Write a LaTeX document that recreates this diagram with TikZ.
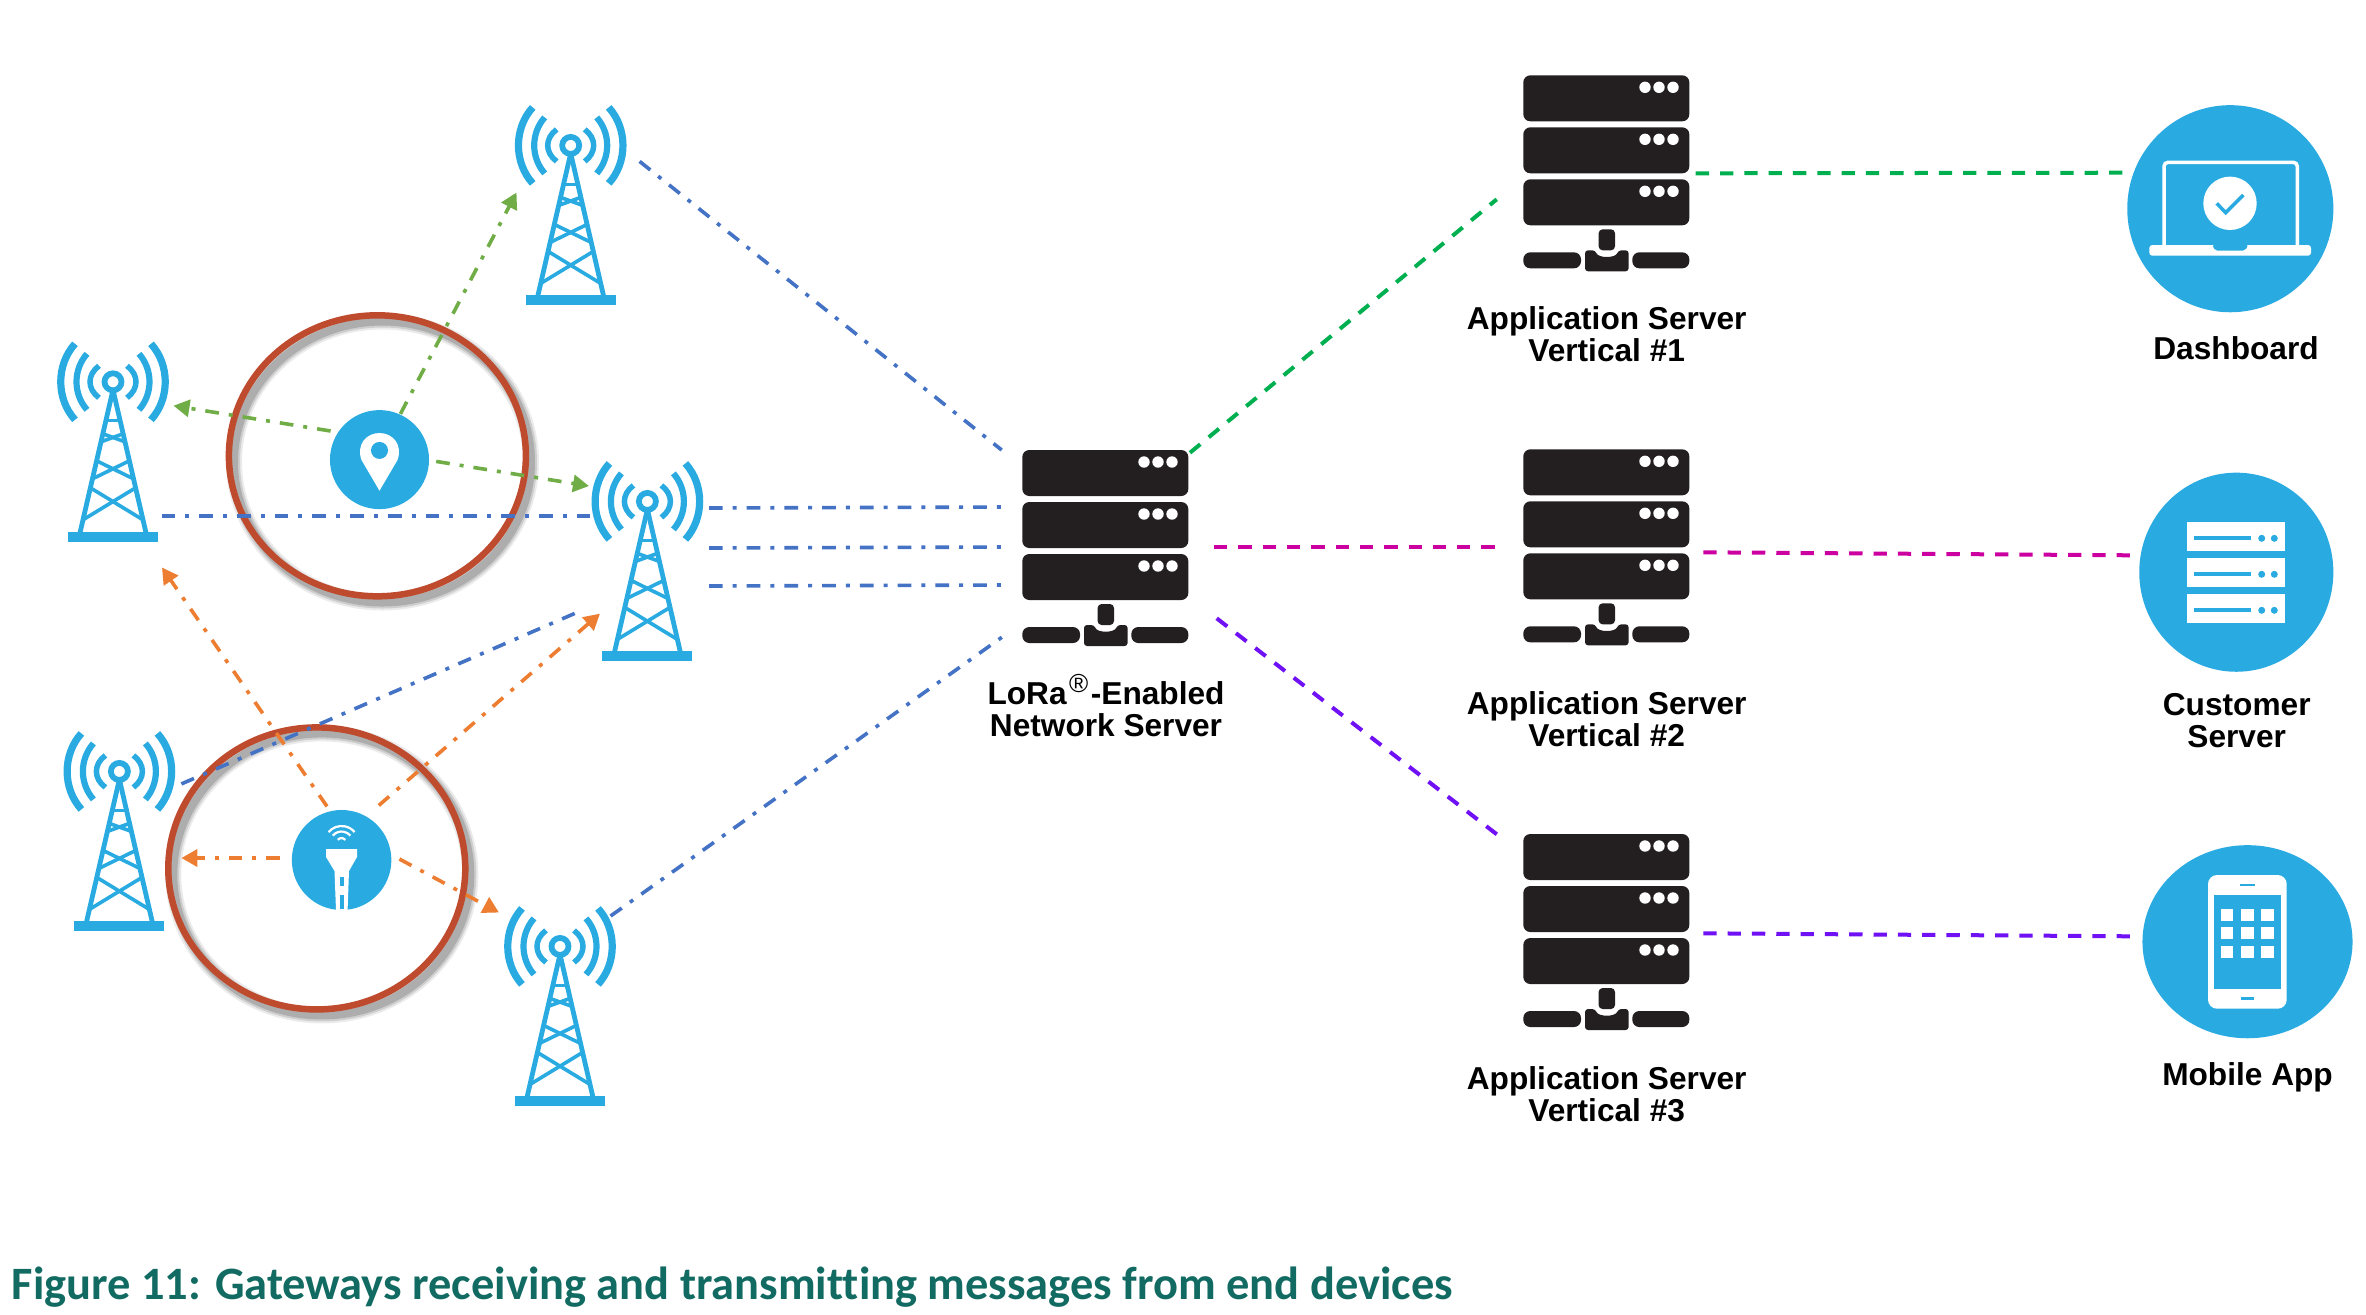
\documentclass[tikz,border=0pt]{standalone}
\usepackage{fontspec}
\setmainfont{Liberation Sans}
\newfontfamily\capfont[Ligatures=NoCommon]{Carlito}
\usetikzlibrary{arrows.meta,shapes.geometric}
\definecolor{sky}{HTML}{29ABE2}
\definecolor{ink}{HTML}{231F20}
\definecolor{ring}{HTML}{BE4B2E}
\definecolor{radio}{HTML}{4472C4}
\definecolor{leaf}{HTML}{70AD47}
\definecolor{amber}{HTML}{ED7D31}
\definecolor{mint}{HTML}{00B050}
\definecolor{rosy}{HTML}{CC00A0}
\definecolor{violet}{HTML}{7010F5}
\definecolor{teal}{HTML}{126B62}
\tikzset{
  dashdot/.style={line width=0.036cm,dash pattern=on 0.137cm off 0.1cm on 0.04cm off 0.1cm},
  dashlink/.style={line width=0.04cm,dash pattern=on 0.133cm off 0.11cm},
  tipped/.style={dashdot,-{Triangle[length=0.16cm,width=0.17cm]}},
  blob/.style={ellipse,fill=sky,inner sep=0pt},
  lbl/.style={font=\fontsize{9}{9.1}\selectfont\bfseries,align=center,anchor=base,inner sep=0pt},
  tower/.pic={
    \draw[sky,line width=0.058cm] (0,0) circle (8.5);
    \foreach \s in {-1,1} {
      \draw[sky,line width=0.072cm] ({\s*38},-38) .. controls ({\s*57},-17) and ({\s*57},17) .. ({\s*38},38);
      \draw[sky,line width=0.062cm] ({\s*26},-28) .. controls ({\s*40},-12) and ({\s*40},12) .. ({\s*26},28);
      \draw[sky,line width=0.055cm] ({\s*14},-16) .. controls ({\s*26},-7) and ({\s*26},7) .. ({\s*14},16);
      \draw[sky,line width=0.048cm] (0,8) -- ({\s*33},151);
      \draw[sky,line width=0.036cm] ({\s*22.6},106) -- ({-\s*30},138);
      \draw[sky,line width=0.036cm] ({\s*16.4},79) -- ({-\s*20.5},97);
      \draw[sky,line width=0.036cm] ({\s*10},52) -- ({-\s*12},60);
    }
    \draw[sky,line width=0.03cm] (-7,39) -- (7,39);
    \fill[sky] (-45,150) rectangle (45,160);
  },
  rack/.pic={
    \foreach \y in {0,52,104} {
      \fill[ink,rounded corners=0.07cm] (0,\y) rectangle (166,{\y+46});
      \foreach \x in {121.7,135.7,149.7}
        \fill[white] (\x,{\y+12}) circle (5.7);
    }
    \fill[ink,rounded corners=0.04cm] (75.3,154) -- (91.7,154) -- (91.7,175) -- (75.3,175) -- cycle;
    \fill[ink,rounded corners=0.07cm] (0,177) rectangle (57.7,193);
    \fill[ink,rounded corners=0.07cm] (109,177) rectangle (166,193);
    \fill[ink,rounded corners=0.03cm] (61.7,175) -- (72,175) .. controls (75,183) and (92,183) .. (95,175) -- (105.3,175) -- (105.3,196) -- (61.7,196) -- cycle;
  }
}
\begin{document}
\begin{tikzpicture}[x=0.01cm,y=-0.01cm]
\useasboundingbox (0,0) rectangle (2366,1314);
% gateways
\pic at (570.7,145.4) {tower};
\pic at (113,381.8) {tower};
\pic at (647.4,501.4) {tower};
\pic at (119.4,771.4) {tower};
\pic at (560,946.4) {tower};
% rings round the end devices
\foreach \w/\o in {0.16/0.08,0.12/0.12,0.08/0.16} {
  \draw[black,opacity=\o,line width=\w cm] (382.5,462) ellipse (148.5 and 140.5);
  \draw[black,opacity=\o,line width=\w cm] (321.8,874.4) ellipse (148.5 and 141);
}
\draw[ring,line width=0.065cm] (377.4,455.8) ellipse (148.5 and 140.5);
\draw[ring,line width=0.065cm] (316.8,868.4) ellipse (148.5 and 141);
% end devices
\node[blob,minimum width=0.99cm,minimum height=0.99cm] (pin) at (379.5,459.6) {};
\fill[white] (379.5,490.7) -- (361.5,460) .. controls (356,445) and (366,433) .. (379.5,433) .. controls (393,433) and (403,445) .. (397.5,460) -- cycle;
\fill[sky] (379.5,450.4) circle (8.5);
\node[blob,minimum width=0.995cm,minimum height=1cm] (probe) at (341.6,860) {};
\fill[white] (326,849) -- (357,849) -- (357,857) -- (349,871) -- (347.6,910) -- (336,910) -- (334.5,871) -- (326,857) -- cycle;
\draw[sky,line width=0.04cm] (341.6,877) -- (341.6,886);
\draw[sky,line width=0.04cm] (341.6,895) -- (341.6,909);
\foreach \r in {17,11.5,5}
  \draw[white,line width=0.022cm] (341.6,843) ++(-140:\r) arc[start angle=-140,end angle=-40,radius=\r];
% servers
\pic at (1022.3,450) {rack};
\pic at (1523.3,75.3) {rack};
\pic at (1523.3,449.3) {rack};
\pic at (1523.3,834) {rack};
\node[lbl] (nslbl) at (1106,736) {LoRa\kern0.08em\raisebox{3.3pt}{\fontsize{7.4}{8}\selectfont\mdseries ®}\kern0.08em-Enabled\\Network Server};
\node[lbl] (as1lbl) at (1606.7,361.5) {Application Server\\Vertical \#1};
\node[lbl] (as2lbl) at (1606.7,746.5) {Application Server\\Vertical \#2};
\node[lbl] (as3lbl) at (1606.7,1121.5) {Application Server\\Vertical \#3};
% customer end
\node[blob,minimum width=2.06cm,minimum height=2.07cm] (dashboard) at (2230.3,208.7) {};
\draw[white,line width=0.035cm,rounded corners=0.04cm] (2164,245) -- (2164,162.3) -- (2297.3,162.3) -- (2297.3,245);
\fill[white,rounded corners=0.03cm] (2149.3,245) -- (2311,245) -- (2311,255.7) -- (2149.3,255.7) -- cycle;
\fill[sky,rounded corners=0.02cm] (2212.3,245) -- (2248.3,245) -- (2245,250.5) -- (2215,250.5) -- cycle;
\fill[white] (2230,203.3) circle (26.7);
\draw[sky,line width=0.035cm] (2216.7,203.3) -- (2225.7,212.7) -- (2243.3,195);
\node[lbl] (dashlbl) at (2236,359) {Dashboard};
\node[blob,minimum width=1.94cm,minimum height=1.99cm] (customer) at (2236.3,572.2) {};
\foreach \y in {522.3,558.3,594.3} {
  \fill[white] (2187.3,\y) rectangle (2285.3,{\y+28.7});
  \draw[sky,line width=0.04cm] (2194.3,{\y+16}) -- (2250.7,{\y+16});
  \fill[sky] (2261.7,{\y+16}) circle (3.5);
  \fill[sky] (2274.3,{\y+16}) circle (3.5);
}
\node[lbl] (custlbl) at (2236.7,747.5) {Customer\\Server};
\node[blob,minimum width=2.1cm,minimum height=1.93cm] (mobile) at (2247.5,941.7) {};
\fill[white,rounded corners=0.09cm] (2208,875) rectangle (2286.7,1008.7);
\fill[sky] (2213.7,895.3) rectangle (2281,988.7);
\foreach \x in {2227,2247.3,2267.7}
  \foreach \y in {914.7,933.3,951.7}
    \fill[white] ({\x-6.4},{\y-6}) rectangle ({\x+6.4},{\y+6});
\draw[sky,line width=0.02cm] (2240,885) -- (2255,885);
\draw[sky,line width=0.03cm] (2241,998.7) -- (2254,998.7);
\node[lbl] (moblbl) at (2247.5,1085) {Mobile App};
% ends of the links
\coordinate (pina) at (400.4,413.9);
\coordinate (t1in) at (516.5,192.5);
\coordinate (pinb) at (330.6,431);
\coordinate (t2in) at (173.5,405.7);
\coordinate (pinc) at (436.2,461.4);
\coordinate (t3in) at (589,486);
\coordinate (proa) at (327,806.4);
\coordinate (t2low) at (162,567.5);
\coordinate (prob) at (378.8,805.4);
\coordinate (t3low) at (600,613.6);
\coordinate (proc) at (280,858);
\coordinate (t4in) at (181.4,858);
\coordinate (prod) at (399.4,859);
\coordinate (t5in) at (499,912.5);
\coordinate (t2out) at (161.6,515.7);
\coordinate (t3mid) at (597,515.7);
\coordinate (t4out) at (181.4,783.9);
\coordinate (t3foot) at (579.4,611.4);
\coordinate (t1out) at (639.6,161.4);
\coordinate (nsa) at (1001.7,450);
\coordinate (t3a) at (709,508);
\coordinate (nsb) at (1003,507);
\coordinate (t3b) at (709,548);
\coordinate (nsc) at (1003,547);
\coordinate (t3c) at (709,586);
\coordinate (nsd) at (1003,585);
\coordinate (t5out) at (610.6,916);
\coordinate (nse) at (1005,635);
\coordinate (nsgreen) at (1190,452.7);
\coordinate (as1in) at (1496.7,199.3);
\coordinate (as1out) at (1695.7,173.3);
\coordinate (dashin) at (2123.3,172.7);
\coordinate (nsrose) at (1214,547);
\coordinate (as2in) at (1495,547);
\coordinate (as2out) at (1703.3,552.3);
\coordinate (custin) at (2131.7,555.3);
\coordinate (nsvio) at (1216.7,618.3);
\coordinate (as3in) at (1497.7,835);
\coordinate (as3out) at (1703.3,933.3);
\coordinate (mobin) at (2131.7,936.3);
% backhaul
\draw[dashdot,radio] (t2out) -- (t3mid);
\draw[dashdot,radio] (t4out) -- (t3foot);
\draw[dashdot,radio] (t1out) -- (nsa);
\draw[dashdot,radio] (t3a) -- (nsb);
\draw[dashdot,radio] (t3b) -- (nsc);
\draw[dashdot,radio] (t3c) -- (nsd);
\draw[dashdot,radio] (t5out) -- (nse);
% uplinks
\draw[tipped,leaf] (pina) -- (t1in);
\draw[tipped,leaf] (pinb) -- (t2in);
\draw[tipped,leaf] (pinc) -- (t3in);
\draw[tipped,amber] (proa) -- (t2low);
\draw[tipped,amber] (prob) -- (t3low);
\draw[tipped,amber] (proc) -- (t4in);
\draw[tipped,amber] (prod) -- (t5in);
% server links
\draw[dashlink,mint] (nsgreen) -- (as1in);
\draw[dashlink,mint] (as1out) -- (dashin);
\draw[dashlink,rosy] (nsrose) -- (as2in);
\draw[dashlink,rosy] (as2out) -- (custin);
\draw[dashlink,violet] (nsvio) -- (as3in);
\draw[dashlink,violet] (as3out) -- (mobin);
\node[anchor=base west,inner sep=0pt,text=teal,font=\capfont\bfseries\fontsize{13.2}{15}\selectfont] (caption) at (11,1299.5) {Figure 11: Gateways receiving and transmitting messages from end devices};
\end{tikzpicture}
\end{document}
